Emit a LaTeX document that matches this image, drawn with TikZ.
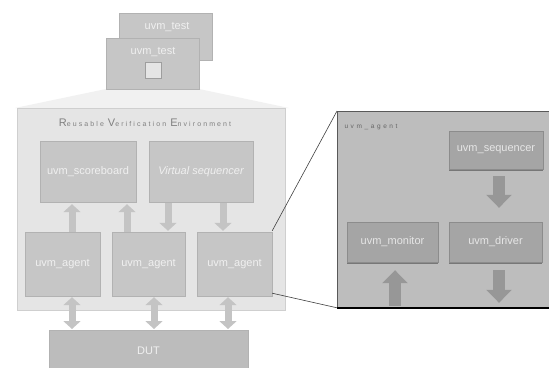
\documentclass[tikz,border=0pt]{standalone}
\usepackage{fontspec}
\setmainfont{Liberation Sans}
\newfontfamily\widefont[LetterSpace=30]{Liberation Sans}
\newfontfamily\widerfont[LetterSpace=40]{Liberation Sans}
\usetikzlibrary{arrows.meta,shadows}
\definecolor{boxfill}{HTML}{C6C6C6}
\definecolor{boxtext}{HTML}{F0F0F0}
\definecolor{envfill}{HTML}{E5E5E5}
\definecolor{envline}{HTML}{CFCFCF}
\definecolor{fanfill}{HTML}{F1F1F1}
\definecolor{panelfill}{HTML}{BDBDBD}
\definecolor{compfill}{HTML}{A5A5A5}
\definecolor{comptext}{HTML}{E6E6E6}
\definecolor{arrowfill}{HTML}{C4C4C4}
\definecolor{darkarrow}{HTML}{979797}
\tikzset{
  boxfont/.style={font=\fontsize{11}{13}\selectfont},
  greybox/.style={fill=boxfill, draw=boxfill!90!black, line width=0.4pt,
    text=boxtext, boxfont, inner sep=0pt,
    drop shadow={shadow xshift=1.2pt, shadow yshift=-1.2pt, fill=black!35, opacity=0.6}},
  compbox/.style={fill=compfill, draw=compfill!85!black, line width=0.4pt,
    text=comptext, boxfont, inner sep=0pt,
    drop shadow={shadow xshift=0pt, shadow yshift=-1.6pt, fill=black!60, opacity=0.8}},
  uparrow/.style={draw=arrowfill, line width=7pt,
    -{Triangle[length=8pt,width=17pt]}},
  twoway/.style={draw=arrowfill, line width=7pt,
    {Triangle[length=8pt,width=17pt]}-{Triangle[length=8pt,width=17pt]}},
  bigarrow/.style={draw=darkarrow, line width=12pt,
    -{Triangle[length=13pt,width=25pt]}},
  zoomline/.style={draw=black!75, line width=0.6pt}
}
\begin{document}
\begin{tikzpicture}[x=1pt,y=-1pt]
\useasboundingbox (0,0) rectangle (549,367);
\fill[white] (0,0) rectangle (549,367);

% test layer
\node[greybox, minimum width=93pt, minimum height=47pt, anchor=north west]
  (testback) at (119,13) {};
\node[text=boxtext, boxfont] (testbacklabel) at (167,27) {uvm\_test};
\fill[fanfill] (106,89) -- (199,89) -- (289,108) -- (15,108) -- cycle;
\node[greybox, minimum width=93pt, minimum height=51pt, anchor=north west]
  (testfront) at (106,38) {};
\node[text=boxtext, boxfont] (testfrontlabel) at (153,52) {uvm\_test};
\node[fill=boxfill!45!white, draw=boxfill!80!black, line width=0.4pt,
  minimum size=16pt, inner sep=0pt,
  drop shadow={shadow xshift=0.8pt, shadow yshift=-0.8pt, fill=black!30}]
  (port) at (153,70.5) {};

% environment
\node[fill=envfill, draw=envline, line width=0.8pt, minimum width=268pt,
  minimum height=202pt, anchor=north west, inner sep=0pt] (env) at (17,108) {};
\node[text=black!50, font=\fontsize{7}{8}\selectfont\widefont] (envtitle) at (145,123)
  {{\fontsize{11}{12}\selectfont R}eusable {\fontsize{11}{12}\selectfont V}erification {\fontsize{11}{12}\selectfont E}nvironment};

\node[greybox, minimum width=96pt, minimum height=61pt] (sb) at (88,171.5) {uvm\_scoreboard};
\node[greybox, minimum width=104pt, minimum height=61pt] (vs) at (201,171.5) {\itshape Virtual sequencer};

\node[greybox, minimum width=75pt, minimum height=64pt] (ag1) at (62.5,264) {uvm\_agent};
\node[greybox, minimum width=73pt, minimum height=64pt] (ag2) at (148.5,264) {uvm\_agent};
\node[greybox, minimum width=75pt, minimum height=64pt] (ag3) at (234.5,264) {uvm\_agent};

\node[greybox, fill=boxfill!95!black, minimum width=199pt, minimum height=40pt,
  anchor=north west] (dut) at (49,330) {};
\node[text=boxtext, boxfont] (dutlabel) at (148.5,351) {DUT};

% traffic between agents and the upper components
\draw[uparrow] (ag1.north -| 72,0) -- ([yshift=-2pt]sb.south -| 72,0);
\draw[uparrow] (ag2.north -| 127,0) -- ([yshift=-2pt]sb.south -| 127,0);
\draw[uparrow] ([yshift=-1pt]vs.south -| 168,0) -- ([yshift=1pt]ag2.north -| 168,0);
\draw[uparrow] ([yshift=-1pt]vs.south -| 223,0) -- ([yshift=1pt]ag3.north -| 223,0);

% links to the DUT
\draw[twoway] ([yshift=-1pt]ag1.south -| 72,0) -- ([yshift=1pt]dut.north -| 72,0);
\draw[twoway] ([yshift=-1pt]ag2.south -| 154,0) -- ([yshift=1pt]dut.north -| 154,0);
\draw[twoway] ([yshift=-1pt]ag3.south -| 228,0) -- ([yshift=1pt]dut.north -| 228,0);

% expanded agent
\node[fill=panelfill, draw=black!65, line width=0.8pt, minimum width=220pt,
  minimum height=196pt, anchor=north west, inner sep=0pt] (panel) at (337,111) {};
\draw[black, line width=1.4pt] (panel.south west) -- (panel.south east);
\node[anchor=west, text=black!60, font=\fontsize{6.5}{7}\selectfont\widerfont]
  (panellabel) at (341,127) {uvm\_agent};

\node[compbox, minimum width=94pt, minimum height=38pt] (seq) at (496,150) {uvm\_sequencer};
\node[compbox, minimum width=91pt, minimum height=40pt] (mon) at (392.5,242) {uvm\_monitor};
\node[compbox, minimum width=93pt, minimum height=40pt] (drv) at (495.5,242) {uvm\_driver};

\draw[bigarrow] ([yshift=-7pt]seq.south -| 499,0) -- ([yshift=14pt]drv.north -| 499,0);
\draw[bigarrow] ([yshift=2pt]panel.south -| 395,0) -- ([yshift=-8pt]mon.south -| 395,0);
\draw[bigarrow] ([yshift=-8pt]drv.south -| 499,0) -- ([yshift=5pt]panel.south -| 499,0);

% zoom guides
\draw[zoomline] ([yshift=1pt]ag3.north east) -- (panel.north west);
\draw[zoomline] ([yshift=3pt]ag3.south east) -- (panel.south west);
\end{tikzpicture}
\end{document}
